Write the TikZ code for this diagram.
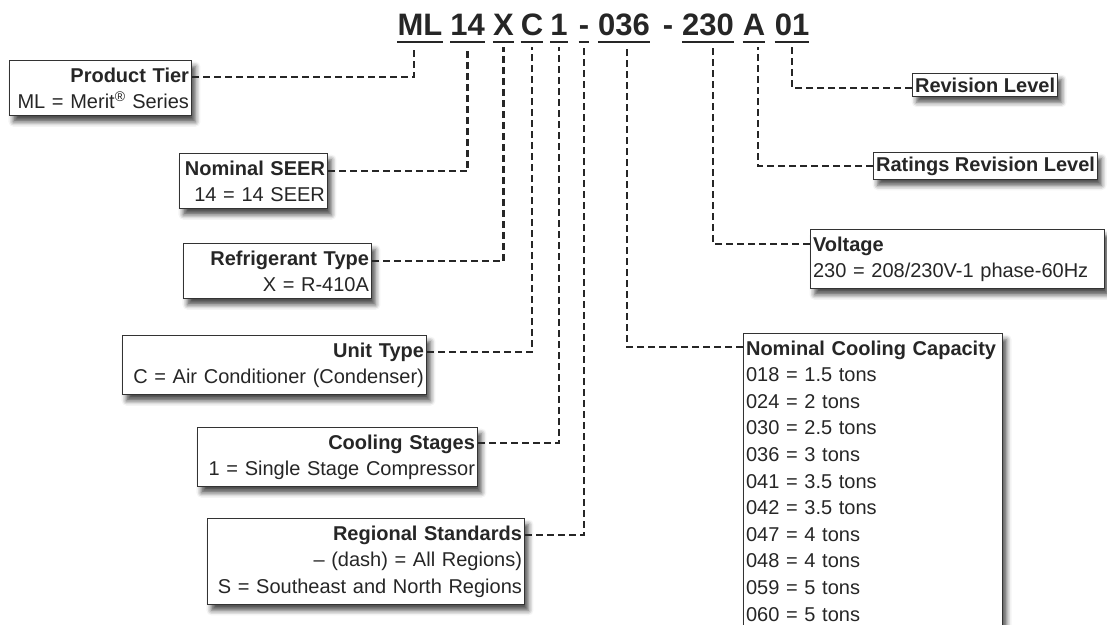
\documentclass[tikz,border=0pt]{standalone}
\usepackage{fontspec}
\setmainfont{Liberation Sans}
\usetikzlibrary{shadows.blur}

\begin{document}
\begin{tikzpicture}[x=1pt,y=-1pt,
 txt/.style={font=\fontsize{20}{26.6}\selectfont,text=black!85},
 infobox/.style={txt,draw=black!80,line width=1.1pt,fill=white,inner xsep=2.5pt,inner ysep=7pt,
   blur shadow={shadow xshift=4pt,shadow yshift=-6pt,shadow blur radius=5pt,shadow opacity=70}},
 leftbox/.style={infobox,align=right,anchor=north east},
 rightbox/.style={infobox,align=left,anchor=north west},
 seg/.style={font=\bfseries\fontsize{31}{31}\selectfont,text=black!85,inner sep=0pt,text depth=7pt,anchor=base},
 uline/.style={line width=2pt,black!85},
 lead/.style={line width=2.2pt,black!85,dash pattern=on 7pt off 4pt}]
 \useasboundingbox (0,0) rectangle (1107,624);
 % model number, one node per field
 \foreach \nm/\tx/\xx in {ml/ML/420,seer/14/467.5,refr/X/503.5,unit/C/532,stg/1/559,reg/-/584,cap/036/624,volt/230/708,rat/A/754,rev/01/792}{
  \node[seg] (\nm) at (\xx,35) {\tx};
  \draw[uline] (\nm.south west)--(\nm.south east);
 }
 \node[seg] (dsh) at (668,35) {-};
 % left hand boxes
 \node[leftbox,text width=177pt] (tierbox) at (192,60) {\textbf{Product Tier}\\ML = Merit\textsuperscript{\textregistered} Series};
 \node[leftbox,text width=143pt] (seerbox) at (328,153) {\textbf{Nominal SEER}\\14 = 14 SEER};
 \node[leftbox,text width=183pt] (refrbox) at (372,243) {\textbf{Refrigerant Type}\\X = R-410A};
 \node[leftbox,text width=299pt] (unitbox) at (427,335) {\textbf{Unit Type}\\C = Air Conditioner (Condenser)};
 \node[leftbox,text width=275pt] (stgbox) at (478,427) {\textbf{Cooling Stages}\\1 = Single Stage Compressor};
 \node[leftbox,text width=312pt] (regbox) at (525,518) {\textbf{Regional Standards}\\\textendash{} (dash) = All Regions)\\S = Southeast and North Regions};
 % right hand boxes
 \node[rightbox,inner ysep=4pt] (revbox) at (912,73) {\textbf{Revision Level}};
 \node[rightbox,inner ysep=4pt] (ratbox) at (873,152) {\textbf{Ratings Revision Level}};
 \node[rightbox,text width=289pt] (voltbox) at (810,229) {\textbf{Voltage}\\230 = 208/230V-1 phase-60Hz};
 \node[rightbox,text width=254pt] (capbox) at (743,333) {\textbf{Nominal Cooling Capacity}\\018 = 1.5 tons\\024 = 2 tons\\030 = 2.5 tons\\036 = 3 tons\\041 = 3.5 tons\\042 = 3.5 tons\\047 = 4 tons\\048 = 4 tons\\059 = 5 tons\\060 = 5 tons};
 % dashed leads
 \draw[lead] ([yshift=-17pt]tierbox.north east) -| ([xshift=-6pt,yshift=-5pt]ml.south);
 \draw[lead] ([yshift=-18pt]seerbox.north east) -| ([yshift=-5pt]seer.south);
 \draw[lead] ([yshift=-18pt]refrbox.north east) -| ([yshift=-5pt]refr.south);
 \draw[lead] ([yshift=-17pt]unitbox.north east) -| ([yshift=-5pt]unit.south);
 \draw[lead] ([yshift=-16pt]stgbox.north east) -| ([yshift=-5pt]stg.south);
 \draw[lead] ([yshift=-17pt]regbox.north east) -| ([yshift=-5pt]reg.south);
 \draw[lead] ([yshift=-14pt]capbox.north west) -| ([xshift=3pt,yshift=-5pt]cap.south);
 \draw[lead] ([yshift=-15pt]voltbox.north west) -| ([xshift=5pt,yshift=-5pt]volt.south);
 \draw[lead] (ratbox.west) -| ([xshift=4pt,yshift=-5pt]rat.south);
 \draw[lead] ([yshift=-3pt]revbox.west) -| ([yshift=-5pt]rev.south);
\end{tikzpicture}
\end{document}
